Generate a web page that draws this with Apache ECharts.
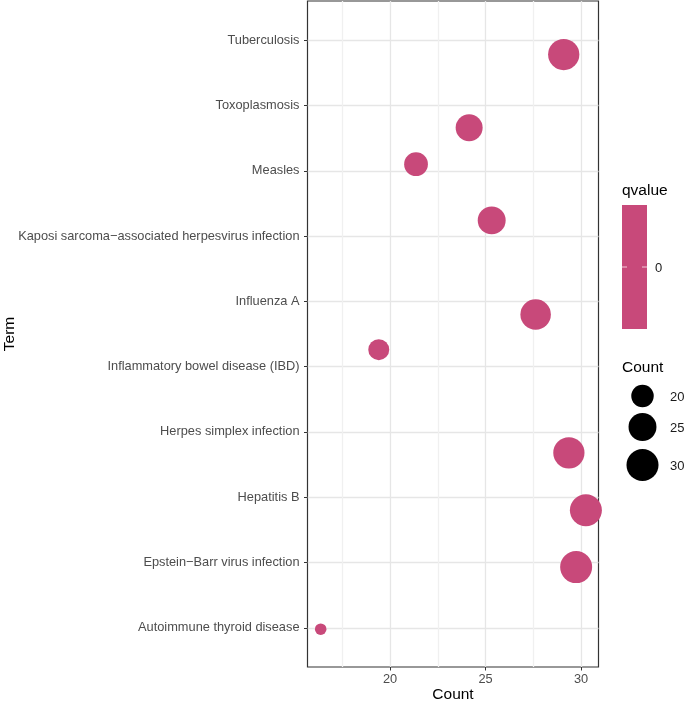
<!DOCTYPE html>
<html>
<head>
<meta charset="utf-8">
<script src="https://cdn.jsdelivr.net/npm/echarts@6/dist/echarts.min.js"></script>
<style>
html,body{margin:0;padding:0;background:#fff;}
#c{width:685px;height:702px;}
</style>
</head>
<body>
<div id="c"></div>
<script>
// Terms, bottom (position 1) to top (position 10)
const terms = [
  "Autoimmune thyroid disease",
  "Epstein\u2212Barr virus infection",
  "Hepatitis B",
  "Herpes simplex infection",
  "Inflammatory bowel disease (IBD)",
  "Influenza A",
  "Kaposi sarcoma\u2212associated herpesvirus infection",
  "Measles",
  "Toxoplasmosis",
  "Tuberculosis"
];
// Count per term (drives point size)
const counts = [16, 30, 30, 29, 19, 28, 25, 21, 24, 29];
// Plotted (jittered) x position per term
const xJitter = [16.37, 29.74, 30.25, 29.36, 19.41, 27.62, 25.32, 21.36, 24.14, 29.09];
// Plotted (jittered) y position per term
const yJitter = [0.98, 1.93, 2.80, 3.68, 5.26, 5.80, 7.24, 8.10, 8.66, 9.78];
// Axis ticks
const xTickLabels = [20, 25, 30];
const xGridValues = [17.5, 20, 22.5, 25, 27.5, 30];
const sizeLegendValues = [20, 25, 30];
const qvalueLabel = "0";

const cMin = Math.min(...counts), cMax = Math.max(...counts);
function sizeOf(c){ return 11.5 + 20.5*Math.sqrt(Math.max(0,(c - cMin))/(cMax - cMin)); }

const PINK = '#C8497A';
const FONT = 'Liberation Sans, Arial, sans-serif';

const data = terms.map((t,i)=>[xJitter[i], yJitter[i], counts[i], t]);
const yPositions = terms.map((t,i)=>i+1);

const chart = echarts.init(document.getElementById('c'), null, {renderer:'canvas'});

// legend graphics
const gfx = [];
gfx.push({type:'text', left:622, top:183, style:{text:'qvalue', font:'15.5px '+FONT, fill:'#000'}});
gfx.push({type:'rect', shape:{x:622, y:205, width:25, height:124}, style:{fill:PINK}});
gfx.push({type:'line', shape:{x1:622, y1:267, x2:627, y2:267}, style:{stroke:'#F3C9D8', lineWidth:1}});
gfx.push({type:'line', shape:{x1:642, y1:267, x2:647, y2:267}, style:{stroke:'#F3C9D8', lineWidth:1}});
gfx.push({type:'text', x:655, y:268, style:{text:qvalueLabel, font:'13px '+FONT, fill:'#1A1A1A', verticalAlign:'middle'}});
gfx.push({type:'text', left:622, top:360, style:{text:'Count', font:'15.5px '+FONT, fill:'#000'}});
const legY = [396, 427, 465];
sizeLegendValues.forEach((v,i)=>{
  gfx.push({type:'circle', shape:{cx:642.5, cy:legY[i], r:sizeOf(v)/2}, style:{fill:'#000'}});
  gfx.push({type:'text', x:670, y:legY[i]+1, style:{text:String(v), font:'13px '+FONT, fill:'#1A1A1A', verticalAlign:'middle'}});
});

chart.setOption({
  animation:false,
  backgroundColor:'#fff',
  textStyle:{fontFamily:FONT},
  grid:{left:307.5, top:1, width:291, height:666, show:true, borderColor:'#333', borderWidth:1.2,
        backgroundColor:'transparent', containLabel:false, outerBoundsMode:'none'},
  xAxis:[{
    type:'value', min:15.68, max:30.91, gridIndex:0,
    axisLine:{show:false},
    axisTick:{show:false, customValues:xGridValues},
    axisLabel:{show:false, customValues:xGridValues},
    splitLine:{show:true, lineStyle:{color:['#F0F0F0','#E6E6E6'], width:1.3}}
  },{
    type:'value', min:15.68, max:30.91, gridIndex:0, position:'bottom',
    name:'Count', nameLocation:'middle', nameGap:20, nameMoveOverlap:false,
    nameTextStyle:{fontSize:15.5, color:'#000', fontFamily:FONT},
    axisLine:{show:false},
    axisTick:{show:true, length:3.5, customValues:xTickLabels, lineStyle:{color:'#333', width:1}},
    axisLabel:{show:true, customValues:xTickLabels, margin:6, fontSize:12.8, color:'#4D4D4D', fontFamily:FONT},
    splitLine:{show:false}
  }],
  yAxis:{
    type:'value', min:0.4, max:10.6,
    name:'Term', nameLocation:'middle', nameGap:290, nameRotate:90, nameMoveOverlap:false,
    nameTextStyle:{fontSize:15.5, color:'#000', fontFamily:FONT},
    axisLine:{show:false},
    axisTick:{show:true, length:3.5, customValues:yPositions, lineStyle:{color:'#333', width:1}},
    axisLabel:{show:true, customValues:yPositions, margin:8, fontSize:12.8, color:'#4D4D4D', fontFamily:FONT,
      formatter:(v)=>terms[Math.round(v)-1] || ''},
    splitLine:{show:true, lineStyle:{color:'#E6E6E6', width:1.3}}
  },
  series:[{
    type:'scatter', xAxisIndex:1,
    data:data,
    symbol:'circle',
    symbolSize:(v)=>sizeOf(v[2]),
    itemStyle:{color:PINK, opacity:1},
    clip:false
  }],
  graphic:gfx
});
</script>
</body>
</html>
